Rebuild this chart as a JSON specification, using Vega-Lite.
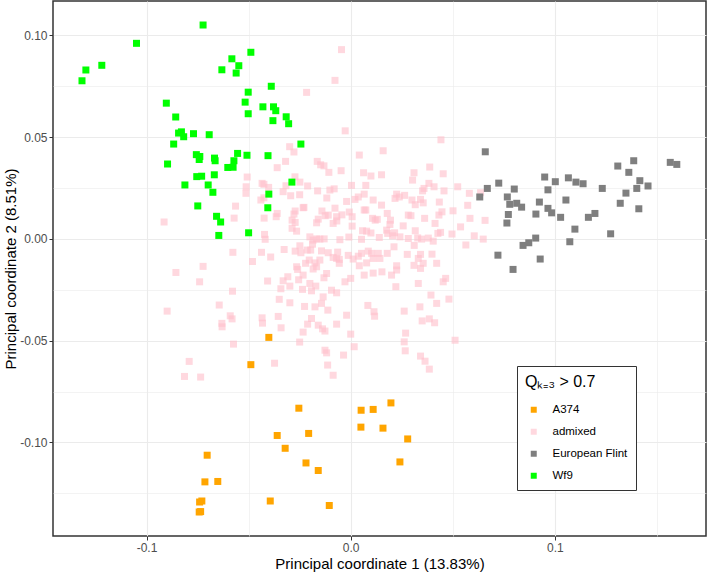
{
  "$schema": "https://vega.github.io/schema/vega-lite/v6.json",
  "width": 653,
  "height": 535,
  "autosize": {"type": "none"},
  "padding": {"left": 53, "top": 1, "right": 2, "bottom": 38},
  "background": "white",
  "config": {
    "view": {"stroke": "#333333", "strokeWidth": 1.5},
    "font": "Liberation Sans"
  },
  "data": {
    "values": [
      {"group":"admixed","pc1":-0.0216,"pc2":0.0720},{"group":"admixed","pc1":-0.0299,"pc2":0.0453},{"group":"admixed","pc1":-0.0278,"pc2":0.0427},{"group":"admixed","pc1":-0.0319,"pc2":0.0381},{"group":"admixed","pc1":-0.0360,"pc2":0.0350},{"group":"admixed","pc1":-0.0507,"pc2":0.0304},{"group":"admixed","pc1":-0.0434,"pc2":0.0273},{"group":"admixed","pc1":-0.0425,"pc2":0.0268},{"group":"admixed","pc1":-0.0512,"pc2":0.0256},{"group":"admixed","pc1":-0.0513,"pc2":0.0224},
      {"group":"admixed","pc1":-0.0402,"pc2":0.0253},{"group":"admixed","pc1":-0.0317,"pc2":0.0261},{"group":"admixed","pc1":-0.0331,"pc2":0.0232},{"group":"admixed","pc1":-0.0273,"pc2":0.0305},{"group":"admixed","pc1":-0.0249,"pc2":0.0279},{"group":"admixed","pc1":-0.0211,"pc2":0.0260},{"group":"admixed","pc1":-0.0294,"pc2":0.0212},{"group":"admixed","pc1":-0.0250,"pc2":0.0217},{"group":"admixed","pc1":-0.0440,"pc2":0.0191},{"group":"admixed","pc1":-0.0425,"pc2":0.0202},
      {"group":"admixed","pc1":-0.0564,"pc2":0.0161},{"group":"admixed","pc1":-0.0571,"pc2":0.0102},{"group":"admixed","pc1":-0.0424,"pc2":0.0102},{"group":"admixed","pc1":-0.0365,"pc2":0.0109},{"group":"admixed","pc1":-0.0360,"pc2":0.0125},{"group":"admixed","pc1":-0.0272,"pc2":0.0137},{"group":"admixed","pc1":-0.0278,"pc2":0.0122},{"group":"admixed","pc1":-0.0233,"pc2":0.0153},{"group":"admixed","pc1":-0.0287,"pc2":0.0092},{"group":"admixed","pc1":-0.0272,"pc2":0.0081},
      {"group":"admixed","pc1":-0.0287,"pc2":0.0052},{"group":"admixed","pc1":-0.0265,"pc2":0.0038},{"group":"admixed","pc1":-0.0914,"pc2":0.0083},{"group":"admixed","pc1":-0.0422,"pc2":0.0022},{"group":"admixed","pc1":-0.0419,"pc2":-0.0002},{"group":"admixed","pc1":-0.0577,"pc2":-0.0066},{"group":"admixed","pc1":-0.0437,"pc2":-0.0066},{"group":"admixed","pc1":-0.0392,"pc2":-0.0089},{"group":"admixed","pc1":-0.0481,"pc2":-0.0111},{"group":"admixed","pc1":-0.0326,"pc2":-0.0052},
      {"group":"admixed","pc1":-0.0272,"pc2":-0.0060},{"group":"admixed","pc1":-0.0244,"pc2":-0.0068},{"group":"admixed","pc1":-0.0213,"pc2":-0.0055},{"group":"admixed","pc1":-0.0221,"pc2":-0.0120},{"group":"admixed","pc1":-0.0265,"pc2":-0.0137},{"group":"admixed","pc1":-0.0260,"pc2":-0.0150},{"group":"admixed","pc1":-0.0233,"pc2":-0.0178},{"group":"admixed","pc1":-0.0203,"pc2":-0.0104},{"group":"admixed","pc1":-0.0723,"pc2":-0.0135},{"group":"admixed","pc1":-0.0856,"pc2":-0.0165},
      {"group":"admixed","pc1":-0.0740,"pc2":-0.0211},{"group":"admixed","pc1":-0.0407,"pc2":-0.0207},{"group":"admixed","pc1":-0.0331,"pc2":-0.0206},{"group":"admixed","pc1":-0.0308,"pc2":-0.0186},{"group":"admixed","pc1":-0.0298,"pc2":-0.0232},{"group":"admixed","pc1":-0.0342,"pc2":-0.0245},{"group":"admixed","pc1":-0.0255,"pc2":-0.0201},{"group":"admixed","pc1":-0.0579,"pc2":-0.0257},{"group":"admixed","pc1":-0.0350,"pc2":-0.0297},{"group":"admixed","pc1":-0.0298,"pc2":-0.0314},
      {"group":"admixed","pc1":-0.0644,"pc2":-0.0325},{"group":"admixed","pc1":-0.0899,"pc2":-0.0355},{"group":"admixed","pc1":-0.0226,"pc2":-0.0332},{"group":"admixed","pc1":-0.0590,"pc2":-0.0378},{"group":"admixed","pc1":-0.0581,"pc2":-0.0393},{"group":"admixed","pc1":-0.0355,"pc2":-0.0381},{"group":"admixed","pc1":-0.0434,"pc2":-0.0388},{"group":"admixed","pc1":-0.0432,"pc2":-0.0414},{"group":"admixed","pc1":-0.0631,"pc2":-0.0415},{"group":"admixed","pc1":-0.0630,"pc2":-0.0432},
      {"group":"admixed","pc1":-0.0211,"pc2":-0.0419},{"group":"admixed","pc1":-0.0341,"pc2":-0.0437},{"group":"admixed","pc1":-0.0233,"pc2":-0.0458},{"group":"admixed","pc1":-0.0574,"pc2":-0.0517},{"group":"admixed","pc1":-0.0250,"pc2":-0.0507},{"group":"admixed","pc1":-0.0791,"pc2":-0.0602},{"group":"admixed","pc1":-0.0373,"pc2":-0.0611},{"group":"admixed","pc1":-0.0814,"pc2":-0.0676},{"group":"admixed","pc1":-0.0735,"pc2":-0.0679},
      {"group":"admixed","pc1":-0.0045,"pc2":0.0930},{"group":"admixed","pc1":-0.0077,"pc2":0.0779},{"group":"admixed","pc1":-0.0027,"pc2":0.0531},{"group":"admixed","pc1":0.0442,"pc2":0.0487},{"group":"admixed","pc1":0.0159,"pc2":0.0433},{"group":"admixed","pc1":0.0042,"pc2":0.0412},{"group":"admixed","pc1":-0.0164,"pc2":0.0381},{"group":"admixed","pc1":-0.0147,"pc2":0.0364},{"group":"admixed","pc1":-0.0131,"pc2":0.0359},{"group":"admixed","pc1":-0.0107,"pc2":0.0327},
      {"group":"admixed","pc1":-0.0047,"pc2":0.0335},{"group":"admixed","pc1":0.0063,"pc2":0.0325},{"group":"admixed","pc1":0.0099,"pc2":0.0309},{"group":"admixed","pc1":0.0151,"pc2":0.0315},{"group":"admixed","pc1":0.0387,"pc2":0.0353},{"group":"admixed","pc1":0.0453,"pc2":0.0320},{"group":"admixed","pc1":0.0310,"pc2":0.0325},{"group":"admixed","pc1":0.0303,"pc2":0.0289},{"group":"admixed","pc1":0.0383,"pc2":0.0273},{"group":"admixed","pc1":0.0408,"pc2":0.0256},
      {"group":"admixed","pc1":0.0524,"pc2":0.0256},{"group":"admixed","pc1":0.0581,"pc2":0.0224},{"group":"admixed","pc1":0.0457,"pc2":0.0236},{"group":"admixed","pc1":0.0359,"pc2":0.0248},{"group":"admixed","pc1":0.0352,"pc2":0.0236},{"group":"admixed","pc1":-0.0162,"pc2":0.0236},{"group":"admixed","pc1":-0.0102,"pc2":0.0240},{"group":"admixed","pc1":-0.0081,"pc2":0.0246},{"group":"admixed","pc1":0.0004,"pc2":0.0263},{"group":"admixed","pc1":0.0074,"pc2":0.0263},
      {"group":"admixed","pc1":0.0066,"pc2":0.0220},{"group":"admixed","pc1":0.0021,"pc2":0.0194},{"group":"admixed","pc1":0.0037,"pc2":0.0206},{"group":"admixed","pc1":-0.0020,"pc2":0.0184},{"group":"admixed","pc1":0.0110,"pc2":0.0191},{"group":"admixed","pc1":0.0225,"pc2":0.0220},{"group":"admixed","pc1":0.0217,"pc2":0.0199},{"group":"admixed","pc1":0.0238,"pc2":0.0206},{"group":"admixed","pc1":0.0264,"pc2":0.0214},{"group":"admixed","pc1":0.0300,"pc2":0.0191},
      {"group":"admixed","pc1":0.0316,"pc2":0.0168},{"group":"admixed","pc1":0.0355,"pc2":0.0177},{"group":"admixed","pc1":0.0342,"pc2":0.0194},{"group":"admixed","pc1":0.0434,"pc2":0.0181},{"group":"admixed","pc1":0.0151,"pc2":0.0166},{"group":"admixed","pc1":0.0066,"pc2":0.0142},{"group":"admixed","pc1":0.0074,"pc2":0.0142},{"group":"admixed","pc1":-0.0077,"pc2":0.0151},{"group":"admixed","pc1":-0.0117,"pc2":0.0201},{"group":"admixed","pc1":-0.0229,"pc2":0.0155},
      {"group":"admixed","pc1":-0.0141,"pc2":0.0137},{"group":"admixed","pc1":-0.0125,"pc2":0.0114},{"group":"admixed","pc1":-0.0110,"pc2":0.0117},{"group":"admixed","pc1":-0.0043,"pc2":0.0118},{"group":"admixed","pc1":-0.0069,"pc2":0.0109},{"group":"admixed","pc1":-0.0007,"pc2":0.0132},{"group":"admixed","pc1":0.0007,"pc2":0.0109},{"group":"admixed","pc1":-0.0159,"pc2":0.0097},{"group":"admixed","pc1":-0.0167,"pc2":0.0079},{"group":"admixed","pc1":-0.0086,"pc2":0.0076},
      {"group":"admixed","pc1":-0.0068,"pc2":0.0088},{"group":"admixed","pc1":0.0007,"pc2":0.0063},{"group":"admixed","pc1":0.0107,"pc2":0.0101},{"group":"admixed","pc1":0.0120,"pc2":0.0092},{"group":"admixed","pc1":0.0130,"pc2":0.0096},{"group":"admixed","pc1":0.0179,"pc2":0.0125},{"group":"admixed","pc1":0.0195,"pc2":0.0092},{"group":"admixed","pc1":0.0192,"pc2":0.0071},{"group":"admixed","pc1":0.0257,"pc2":0.0064},{"group":"admixed","pc1":0.0282,"pc2":0.0117},
      {"group":"admixed","pc1":0.0295,"pc2":0.0114},{"group":"admixed","pc1":0.0362,"pc2":0.0101},{"group":"admixed","pc1":0.0413,"pc2":0.0076},{"group":"admixed","pc1":0.0432,"pc2":0.0117},{"group":"admixed","pc1":0.0447,"pc2":0.0133},{"group":"admixed","pc1":0.0501,"pc2":0.0138},{"group":"admixed","pc1":0.0573,"pc2":0.0165},{"group":"admixed","pc1":0.0584,"pc2":0.0101},{"group":"admixed","pc1":0.0538,"pc2":0.0059},{"group":"admixed","pc1":0.0427,"pc2":0.0027},
      {"group":"admixed","pc1":0.0440,"pc2":0.0032},{"group":"admixed","pc1":0.0496,"pc2":0.0024},{"group":"admixed","pc1":0.0605,"pc2":0.0015},{"group":"admixed","pc1":0.0564,"pc2":-0.0030},{"group":"admixed","pc1":0.0404,"pc2":-0.0011},{"group":"admixed","pc1":0.0316,"pc2":0.0040},{"group":"admixed","pc1":0.0328,"pc2":0.0005},{"group":"admixed","pc1":0.0347,"pc2":-0.0001},{"group":"admixed","pc1":0.0380,"pc2":0.0004},{"group":"admixed","pc1":0.0282,"pc2":0.0002},
      {"group":"admixed","pc1":0.0311,"pc2":-0.0032},{"group":"admixed","pc1":0.0215,"pc2":0.0030},{"group":"admixed","pc1":0.0205,"pc2":0.0015},{"group":"admixed","pc1":0.0176,"pc2":0.0043},{"group":"admixed","pc1":0.0181,"pc2":0.0027},{"group":"admixed","pc1":0.0241,"pc2":0.0010},{"group":"admixed","pc1":0.0140,"pc2":0.0007},{"group":"admixed","pc1":0.0099,"pc2":0.0029},{"group":"admixed","pc1":0.0078,"pc2":0.0038},{"group":"admixed","pc1":0.0058,"pc2":0.0040},
      {"group":"admixed","pc1":0.0053,"pc2":-0.0002},{"group":"admixed","pc1":-0.0009,"pc2":0.0009},{"group":"admixed","pc1":-0.0053,"pc2":-0.0004},{"group":"admixed","pc1":-0.0200,"pc2":0.0010},{"group":"admixed","pc1":-0.0184,"pc2":-0.0006},{"group":"admixed","pc1":-0.0167,"pc2":0.0000},{"group":"admixed","pc1":-0.0151,"pc2":-0.0001},{"group":"admixed","pc1":-0.0130,"pc2":0.0000},{"group":"admixed","pc1":-0.0187,"pc2":-0.0026},{"group":"admixed","pc1":-0.0249,"pc2":-0.0034},
      {"group":"admixed","pc1":-0.0196,"pc2":-0.0055},{"group":"admixed","pc1":-0.0143,"pc2":-0.0059},{"group":"admixed","pc1":-0.0110,"pc2":-0.0068},{"group":"admixed","pc1":-0.0064,"pc2":-0.0065},{"group":"admixed","pc1":-0.0086,"pc2":-0.0091},{"group":"admixed","pc1":-0.0069,"pc2":-0.0096},{"group":"admixed","pc1":-0.0056,"pc2":-0.0101},{"group":"admixed","pc1":-0.0012,"pc2":-0.0081},{"group":"admixed","pc1":0.0012,"pc2":-0.0099},{"group":"admixed","pc1":0.0037,"pc2":-0.0085},
      {"group":"admixed","pc1":0.0053,"pc2":-0.0071},{"group":"admixed","pc1":0.0086,"pc2":-0.0060},{"group":"admixed","pc1":0.0102,"pc2":-0.0071},{"group":"admixed","pc1":0.0110,"pc2":-0.0096},{"group":"admixed","pc1":0.0078,"pc2":-0.0118},{"group":"admixed","pc1":0.0135,"pc2":-0.0071},{"group":"admixed","pc1":0.0143,"pc2":-0.0096},{"group":"admixed","pc1":0.0179,"pc2":-0.0071},{"group":"admixed","pc1":0.0212,"pc2":-0.0039},{"group":"admixed","pc1":0.0277,"pc2":-0.0076},
      {"group":"admixed","pc1":0.0331,"pc2":-0.0096},{"group":"admixed","pc1":0.0342,"pc2":-0.0076},{"group":"admixed","pc1":0.0355,"pc2":-0.0120},{"group":"admixed","pc1":0.0342,"pc2":-0.0145},{"group":"admixed","pc1":0.0310,"pc2":-0.0130},{"group":"admixed","pc1":0.0398,"pc2":-0.0075},{"group":"admixed","pc1":0.0421,"pc2":-0.0120},{"group":"admixed","pc1":0.0225,"pc2":-0.0132},{"group":"admixed","pc1":0.0225,"pc2":-0.0153},{"group":"admixed","pc1":0.0200,"pc2":-0.0178},
      {"group":"admixed","pc1":0.0153,"pc2":-0.0162},{"group":"admixed","pc1":0.0110,"pc2":-0.0168},{"group":"admixed","pc1":0.0066,"pc2":-0.0178},{"group":"admixed","pc1":0.0042,"pc2":-0.0132},{"group":"admixed","pc1":0.0000,"pc2":-0.0194},{"group":"admixed","pc1":-0.0028,"pc2":-0.0211},{"group":"admixed","pc1":-0.0056,"pc2":-0.0120},{"group":"admixed","pc1":-0.0151,"pc2":-0.0104},{"group":"admixed","pc1":-0.0175,"pc2":-0.0118},{"group":"admixed","pc1":-0.0167,"pc2":-0.0137},
      {"group":"admixed","pc1":-0.0184,"pc2":-0.0148},{"group":"admixed","pc1":-0.0131,"pc2":-0.0191},{"group":"admixed","pc1":-0.0118,"pc2":-0.0170},{"group":"admixed","pc1":-0.0200,"pc2":-0.0219},{"group":"admixed","pc1":-0.0171,"pc2":-0.0232},{"group":"admixed","pc1":-0.0236,"pc2":-0.0248},{"group":"admixed","pc1":-0.0192,"pc2":-0.0255},{"group":"admixed","pc1":-0.0094,"pc2":-0.0252},{"group":"admixed","pc1":-0.0069,"pc2":-0.0265},{"group":"admixed","pc1":0.0221,"pc2":-0.0235},
      {"group":"admixed","pc1":0.0331,"pc2":-0.0219},{"group":"admixed","pc1":0.0453,"pc2":-0.0211},{"group":"admixed","pc1":0.0465,"pc2":-0.0194},{"group":"admixed","pc1":0.0393,"pc2":-0.0276},{"group":"admixed","pc1":0.0421,"pc2":-0.0317},{"group":"admixed","pc1":0.0481,"pc2":-0.0296},{"group":"admixed","pc1":0.0339,"pc2":-0.0334},{"group":"admixed","pc1":0.0262,"pc2":-0.0355},{"group":"admixed","pc1":0.0084,"pc2":-0.0327},{"group":"admixed","pc1":0.0114,"pc2":-0.0358},
      {"group":"admixed","pc1":0.0117,"pc2":-0.0380},{"group":"admixed","pc1":-0.0020,"pc2":-0.0375},{"group":"admixed","pc1":-0.0112,"pc2":-0.0350},{"group":"admixed","pc1":-0.0135,"pc2":-0.0285},{"group":"admixed","pc1":-0.0143,"pc2":-0.0317},{"group":"admixed","pc1":-0.0175,"pc2":-0.0334},{"group":"admixed","pc1":-0.0192,"pc2":-0.0391},{"group":"admixed","pc1":-0.0159,"pc2":-0.0424},{"group":"admixed","pc1":-0.0138,"pc2":-0.0442},{"group":"admixed","pc1":-0.0126,"pc2":-0.0453},
      {"group":"admixed","pc1":-0.0069,"pc2":-0.0419},{"group":"admixed","pc1":0.0000,"pc2":-0.0468},{"group":"admixed","pc1":0.0017,"pc2":-0.0530},{"group":"admixed","pc1":-0.0126,"pc2":-0.0547},{"group":"admixed","pc1":-0.0118,"pc2":-0.0560},{"group":"admixed","pc1":-0.0035,"pc2":-0.0571},{"group":"admixed","pc1":-0.0113,"pc2":-0.0620},{"group":"admixed","pc1":-0.0086,"pc2":-0.0670},{"group":"admixed","pc1":0.0269,"pc2":-0.0463},{"group":"admixed","pc1":0.0262,"pc2":-0.0506},
      {"group":"admixed","pc1":0.0267,"pc2":-0.0550},{"group":"admixed","pc1":0.0350,"pc2":-0.0403},{"group":"admixed","pc1":0.0385,"pc2":-0.0393},{"group":"admixed","pc1":0.0411,"pc2":-0.0412},{"group":"admixed","pc1":0.0342,"pc2":-0.0576},{"group":"admixed","pc1":0.0364,"pc2":-0.0601},{"group":"admixed","pc1":0.0385,"pc2":-0.0640},{"group":"admixed","pc1":0.0511,"pc2":-0.0498},{"group":"admixed","pc1":0.0636,"pc2":0.0227},{"group":"admixed","pc1":0.0649,"pc2":-0.0001},
      {"group":"admixed","pc1":0.0658,"pc2":0.0091},
      {"group":"Wf9","pc1":-0.0723,"pc2":0.1051},{"group":"Wf9","pc1":-0.1049,"pc2":0.0961},{"group":"Wf9","pc1":-0.1219,"pc2":0.0853},{"group":"Wf9","pc1":-0.1297,"pc2":0.0830},{"group":"Wf9","pc1":-0.1316,"pc2":0.0777},{"group":"Wf9","pc1":-0.0489,"pc2":0.0917},{"group":"Wf9","pc1":-0.0582,"pc2":0.0885},{"group":"Wf9","pc1":-0.0548,"pc2":0.0851},{"group":"Wf9","pc1":-0.0631,"pc2":0.0831},{"group":"Wf9","pc1":-0.0561,"pc2":0.0815},
      {"group":"Wf9","pc1":-0.0389,"pc2":0.0750},{"group":"Wf9","pc1":-0.0502,"pc2":0.0721},{"group":"Wf9","pc1":-0.0903,"pc2":0.0667},{"group":"Wf9","pc1":-0.0517,"pc2":0.0672},{"group":"Wf9","pc1":-0.0430,"pc2":0.0649},{"group":"Wf9","pc1":-0.0378,"pc2":0.0649},{"group":"Wf9","pc1":-0.0367,"pc2":0.0630},{"group":"Wf9","pc1":-0.0502,"pc2":0.0615},{"group":"Wf9","pc1":-0.0316,"pc2":0.0600},{"group":"Wf9","pc1":-0.0381,"pc2":0.0581},
      {"group":"Wf9","pc1":-0.0304,"pc2":0.0566},{"group":"Wf9","pc1":-0.0857,"pc2":0.0599},{"group":"Wf9","pc1":-0.0843,"pc2":0.0520},{"group":"Wf9","pc1":-0.0829,"pc2":0.0526},{"group":"Wf9","pc1":-0.0818,"pc2":0.0502},{"group":"Wf9","pc1":-0.0770,"pc2":0.0517},{"group":"Wf9","pc1":-0.0693,"pc2":0.0512},{"group":"Wf9","pc1":-0.0867,"pc2":0.0466},{"group":"Wf9","pc1":-0.0244,"pc2":0.0466},{"group":"Wf9","pc1":-0.0897,"pc2":0.0368},
      {"group":"Wf9","pc1":-0.0756,"pc2":0.0414},{"group":"Wf9","pc1":-0.0739,"pc2":0.0405},{"group":"Wf9","pc1":-0.0742,"pc2":0.0390},{"group":"Wf9","pc1":-0.0667,"pc2":0.0397},{"group":"Wf9","pc1":-0.0664,"pc2":0.0384},{"group":"Wf9","pc1":-0.0554,"pc2":0.0420},{"group":"Wf9","pc1":-0.0508,"pc2":0.0411},{"group":"Wf9","pc1":-0.0405,"pc2":0.0409},{"group":"Wf9","pc1":-0.0572,"pc2":0.0384},{"group":"Wf9","pc1":-0.0602,"pc2":0.0351},
      {"group":"Wf9","pc1":-0.0576,"pc2":0.0352},{"group":"Wf9","pc1":-0.0668,"pc2":0.0315},{"group":"Wf9","pc1":-0.0754,"pc2":0.0306},{"group":"Wf9","pc1":-0.0730,"pc2":0.0308},{"group":"Wf9","pc1":-0.0812,"pc2":0.0265},{"group":"Wf9","pc1":-0.0698,"pc2":0.0265},{"group":"Wf9","pc1":-0.0675,"pc2":0.0229},{"group":"Wf9","pc1":-0.0401,"pc2":0.0220},{"group":"Wf9","pc1":-0.0288,"pc2":0.0279},{"group":"Wf9","pc1":-0.0749,"pc2":0.0162},
      {"group":"Wf9","pc1":-0.0406,"pc2":0.0153},{"group":"Wf9","pc1":-0.0657,"pc2":0.0111},{"group":"Wf9","pc1":-0.0637,"pc2":0.0083},{"group":"Wf9","pc1":-0.0646,"pc2":0.0017},{"group":"Wf9","pc1":-0.0500,"pc2":0.0030},
      {"group":"European Flint","pc1":0.0659,"pc2":0.0428},{"group":"European Flint","pc1":0.1565,"pc2":0.0376},{"group":"European Flint","pc1":0.1597,"pc2":0.0366},{"group":"European Flint","pc1":0.1308,"pc2":0.0358},{"group":"European Flint","pc1":0.1386,"pc2":0.0384},{"group":"European Flint","pc1":0.1362,"pc2":0.0327},{"group":"European Flint","pc1":0.1416,"pc2":0.0286},{"group":"European Flint","pc1":0.1401,"pc2":0.0248},{"group":"European Flint","pc1":0.1456,"pc2":0.0260},{"group":"European Flint","pc1":0.1348,"pc2":0.0225},
      {"group":"European Flint","pc1":0.1320,"pc2":0.0175},{"group":"European Flint","pc1":0.1411,"pc2":0.0148},{"group":"European Flint","pc1":0.1232,"pc2":0.0248},{"group":"European Flint","pc1":0.0950,"pc2":0.0304},{"group":"European Flint","pc1":0.1002,"pc2":0.0281},{"group":"European Flint","pc1":0.1066,"pc2":0.0300},{"group":"European Flint","pc1":0.1103,"pc2":0.0279},{"group":"European Flint","pc1":0.1138,"pc2":0.0271},{"group":"European Flint","pc1":0.0966,"pc2":0.0241},{"group":"European Flint","pc1":0.1054,"pc2":0.0191},
      {"group":"European Flint","pc1":0.0924,"pc2":0.0181},{"group":"European Flint","pc1":0.0966,"pc2":0.0150},{"group":"European Flint","pc1":0.0984,"pc2":0.0128},{"group":"European Flint","pc1":0.1028,"pc2":0.0106},{"group":"European Flint","pc1":0.1164,"pc2":0.0106},{"group":"European Flint","pc1":0.1196,"pc2":0.0125},{"group":"European Flint","pc1":0.1098,"pc2":0.0048},{"group":"European Flint","pc1":0.1073,"pc2":-0.0014},{"group":"European Flint","pc1":0.1273,"pc2":0.0025},{"group":"European Flint","pc1":0.0725,"pc2":0.0274},
      {"group":"European Flint","pc1":0.0669,"pc2":0.0248},{"group":"European Flint","pc1":0.0632,"pc2":0.0206},{"group":"European Flint","pc1":0.0801,"pc2":0.0245},{"group":"European Flint","pc1":0.0767,"pc2":0.0206},{"group":"European Flint","pc1":0.0779,"pc2":0.0170},{"group":"European Flint","pc1":0.0813,"pc2":0.0175},{"group":"European Flint","pc1":0.0837,"pc2":0.0156},{"group":"European Flint","pc1":0.0772,"pc2":0.0120},{"group":"European Flint","pc1":0.0765,"pc2":0.0078},{"group":"European Flint","pc1":0.0907,"pc2":0.0122},
      {"group":"European Flint","pc1":0.0906,"pc2":0.0004},{"group":"European Flint","pc1":0.0872,"pc2":-0.0019},{"group":"European Flint","pc1":0.0844,"pc2":-0.0032},{"group":"European Flint","pc1":0.0721,"pc2":-0.0080},{"group":"European Flint","pc1":0.0928,"pc2":-0.0099},{"group":"European Flint","pc1":0.0795,"pc2":-0.0150},
      {"group":"A374","pc1":-0.0401,"pc2":-0.0484},{"group":"A374","pc1":-0.0489,"pc2":-0.0618},{"group":"A374","pc1":-0.0254,"pc2":-0.0832},{"group":"A374","pc1":-0.0360,"pc2":-0.0966},{"group":"A374","pc1":-0.0206,"pc2":-0.0956},{"group":"A374","pc1":-0.0321,"pc2":-0.1029},{"group":"A374","pc1":-0.0219,"pc2":-0.1101},{"group":"A374","pc1":-0.0159,"pc2":-0.1138},{"group":"A374","pc1":0.0051,"pc2":-0.0842},{"group":"A374","pc1":0.0110,"pc2":-0.0838},
      {"group":"A374","pc1":0.0197,"pc2":-0.0806},{"group":"A374","pc1":0.0050,"pc2":-0.0925},{"group":"A374","pc1":0.0158,"pc2":-0.0930},{"group":"A374","pc1":0.0279,"pc2":-0.0983},{"group":"A374","pc1":0.0241,"pc2":-0.1096},{"group":"A374","pc1":-0.0703,"pc2":-0.1063},{"group":"A374","pc1":-0.0714,"pc2":-0.1194},{"group":"A374","pc1":-0.0651,"pc2":-0.1192},{"group":"A374","pc1":-0.0740,"pc2":-0.1293},{"group":"A374","pc1":-0.0729,"pc2":-0.1288},
      {"group":"A374","pc1":-0.0742,"pc2":-0.1342},{"group":"A374","pc1":-0.0735,"pc2":-0.1340},{"group":"A374","pc1":-0.0394,"pc2":-0.1288},{"group":"A374","pc1":-0.0105,"pc2":-0.1310}
    ]
  },
  "mark": {"type": "square", "size": 49, "filled": true, "strokeWidth": 0, "opacity": 1},
  "encoding": {
    "x": {
      "field": "pc1", "type": "quantitative",
      "scale": {"domain": [-0.1458, 0.1740], "nice": false, "zero": false},
      "axis": {
        "title": "Principal coordinate 1 (13.83%)",
        "values": [-0.1, -0.05, 0, 0.05, 0.1, 0.15],
        "format": ".1f",
        "labelExpr": "abs(datum.value*10-round(datum.value*10))<0.001 ? replace(datum.label, '\u2212', '-') : ''",
        "domain": false,
        "tickSize": 4, "tickColor": "#333333",
        "tickOpacity": {"condition": {"test": "abs(datum.value*10-round(datum.value*10))<0.001", "value": 1}, "value": 0},
        "gridColor": "#EBEBEB",
        "gridWidth": {"condition": {"test": "abs(datum.value*10-round(datum.value*10))<0.001", "value": 1.1}, "value": 0.6},
        "labelFont": "Liberation Sans", "labelFontSize": 12, "labelColor": "#4D4D4D", "labelPadding": 2,
        "titleFont": "Liberation Sans", "titleFontSize": 15, "titleFontWeight": "normal", "titleColor": "#000000", "titlePadding": 3
      }
    },
    "y": {
      "field": "pc2", "type": "quantitative",
      "scale": {"domain": [-0.1460, 0.1169], "nice": false, "zero": false},
      "axis": {
        "title": "Principal coordinate 2 (8.51%)",
        "values": [-0.125, -0.1, -0.075, -0.05, -0.025, 0, 0.025, 0.05, 0.075, 0.1],
        "format": ".2f",
        "labelExpr": "abs(datum.value*20-round(datum.value*20))<0.001 ? replace(datum.label, '\u2212', '-') : ''",
        "domain": false,
        "tickSize": 4, "tickColor": "#333333",
        "tickOpacity": {"condition": {"test": "abs(datum.value*20-round(datum.value*20))<0.001", "value": 1}, "value": 0},
        "gridColor": "#EBEBEB",
        "gridWidth": {"condition": {"test": "abs(datum.value*20-round(datum.value*20))<0.001", "value": 1.1}, "value": 0.6},
        "labelFont": "Liberation Sans", "labelFontSize": 12, "labelColor": "#4D4D4D", "labelPadding": 2,
        "titleFont": "Liberation Sans", "titleFontSize": 15, "titleFontWeight": "normal", "titleColor": "#000000", "titlePadding": 1
      }
    },
    "color": {
      "field": "group", "type": "nominal",
      "scale": {"domain": ["A374", "admixed", "European Flint", "Wf9"], "range": ["#FFA500", "rgba(255,192,203,0.62)", "#7F7F7F", "#00FF00"]},
      "legend": {
        "title": "Qₖ₌₃ > 0.7",
        "orient": "none", "legendX": 464, "legendY": 365,
        "strokeColor": "#333333", "fillColor": "white", "padding": 8,
        "symbolType": "square", "symbolSize": 36, "symbolStrokeWidth": 0, "symbolOffset": 3, "symbolOpacity": 1,
        "labelFont": "Liberation Sans", "labelFontSize": 11.5, "labelColor": "#000000", "labelOffset": 13,
        "titleFont": "Liberation Sans", "titleFontSize": 16, "titleFontWeight": "normal", "titleColor": "#000000", "titlePadding": 14,
        "rowPadding": 9
      }
    }
  }
}
